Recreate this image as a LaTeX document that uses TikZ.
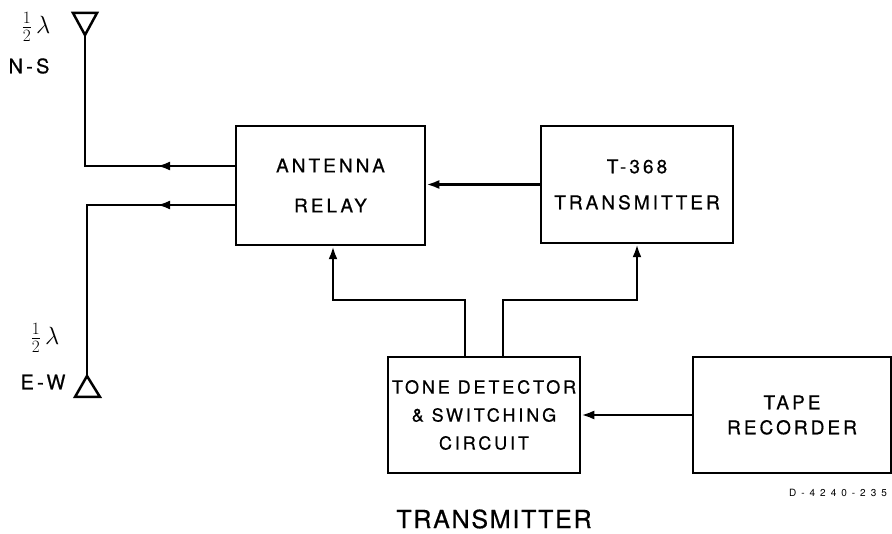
\documentclass[tikz,border=0pt]{standalone}
\usepackage{fontspec}
\setmainfont{TeX Gyre Heros}
\newfontfamily\lblfont{TeX Gyre Heros}[LetterSpace=16,FakeBold=0.6]
\newfontfamily\titlefont{TeX Gyre Heros}[LetterSpace=7,FakeBold=0.6]
\newfontfamily\numfont{TeX Gyre Heros}[LetterSpace=50]
\usetikzlibrary{arrows.meta}

\begin{document}
\begin{tikzpicture}[x=1pt,y=-1pt,line width=2.5pt,
    >={Latex[length=13pt,width=9pt]},
    blk/.style={draw,line width=2.5pt,inner sep=0pt,align=center}]
        \useasboundingbox (0,0) rectangle (892,534);

            \coordinate (A) at (236, 166);
            \coordinate (B) at (157, 166);
            \coordinate (C) at (85, 166);
            \coordinate (D) at (85, 35);
            \coordinate (E) at (236, 205);
            \coordinate (F) at (157, 205);
            \coordinate (G) at (87, 205);
            \coordinate (H) at (87, 376);
            \coordinate (I) at (465, 300);
            \coordinate (J) at (333, 300);
            \coordinate (K) at (503, 300);
            \coordinate (L) at (637, 300);

            \node[blk,minimum width=189pt,minimum height=119pt,font=\lblfont\fontsize{19}{40}\selectfont] (RELAY) at (330.5, 185.5) {ANTENNA\\RELAY};
            \node[blk,minimum width=192pt,minimum height=117pt,font=\lblfont\fontsize{19}{36}\selectfont] (TX) at (637, 184.5) {T-368\\TRANSMITTER};
            \node[blk,minimum width=192pt,minimum height=116pt,font=\lblfont\fontsize{18}{28}\selectfont] (TONE) at (484, 415) {TONE DETECTOR\\\& SWITCHING\\CIRCUIT};
            \node[blk,minimum width=198pt,minimum height=116pt,font=\lblfont\fontsize{19}{25}\selectfont] (TAPE) at (792, 415) {TAPE\\RECORDER};

            % antennas
            \draw (D) -- (73, 13) -- (97, 13) -- cycle;
            \draw (H) -- (75, 397) -- (100, 397) -- cycle;
            \node[font=\fontsize{24}{26}\selectfont] (NSL) at (36, 27) {$\frac{1}{2}\,\lambda$};
            \node[font=\lblfont\fontsize{20}{22}\selectfont] (NS) at (29, 66) {N-S};
            \node[font=\fontsize{24}{26}\selectfont] (EWL) at (45, 338) {$\frac{1}{2}\,\lambda$};
            \node[font=\lblfont\fontsize{20}{22}\selectfont] (EW) at (43, 382) {E-W};

            \draw (A) -- (C) -- (D);
            \draw[->] (A) -- (B);
            \draw (E) -- (G) -- (H);
            \draw[->] (E) -- (F);

            \draw[->] (TX.west) -- (TX.west -| RELAY.east);
            \draw[->] (TONE.north -| I) -- (I) -- (J) -- (RELAY.south -| J);
            \draw[->] (TONE.north -| K) -- (K) -- (L) -- (TX.south -| L);
            \draw[->] (TAPE.west) -- (TONE.east);

            \node[font=\numfont\fontsize{10}{12}\selectfont] (DNUM) at (838, 493) {D-4240-235};
            \node[font=\titlefont\fontsize{25}{28}\selectfont] (TITLE) at (494, 519) {TRANSMITTER};

        \end{tikzpicture}
\end{document}
